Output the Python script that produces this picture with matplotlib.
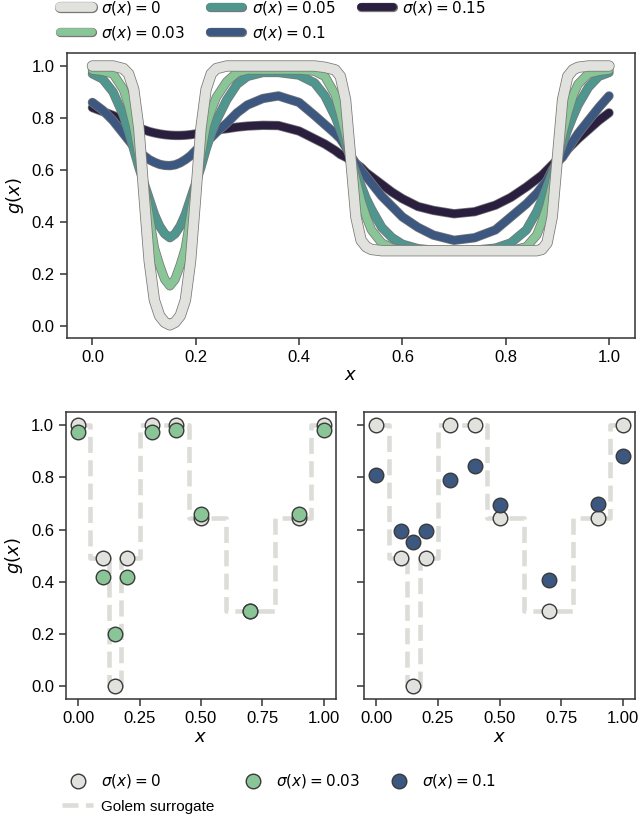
import numpy as np
import matplotlib
matplotlib.use('Agg')
import matplotlib.pyplot as plt
import matplotlib.patheffects as pe

plt.rcParams['font.family'] = ['Liberation Sans', 'DejaVu Sans']
plt.rcParams['mathtext.fontset'] = 'dejavusans'
plt.rcParams['font.size'] = 12

# top panel: smoothed objective for each input noise level
x_grid = [0.00, 0.02, 0.04, 0.06, 0.07, 0.08, 0.09, 0.10, 0.11, 0.12,
          0.13, 0.14, 0.15, 0.16, 0.17, 0.18, 0.19, 0.20, 0.21, 0.22,
          0.23, 0.24, 0.26, 0.28, 0.30, 0.33, 0.36, 0.40, 0.43, 0.45,
          0.47, 0.48, 0.49, 0.50, 0.51, 0.52, 0.53, 0.54, 0.56, 0.58,
          0.60, 0.63, 0.66, 0.70, 0.74, 0.78, 0.81, 0.84, 0.86, 0.87,
          0.88, 0.89, 0.90, 0.91, 0.92, 0.93, 0.94, 0.96, 0.98, 1.00]
g_s0 = [1.0, 1.0, 1.0, 0.99, 0.97, 0.91, 0.76, 0.50, 0.25, 0.10,
        0.04, 0.015, 0.005, 0.015, 0.04, 0.10, 0.25, 0.50, 0.76, 0.91,
        0.97, 0.99, 1.0, 1.0, 1.0, 1.0, 1.0, 1.0, 1.0, 0.995,
        0.985, 0.96, 0.87, 0.645, 0.42, 0.33, 0.305, 0.295, 0.29, 0.29,
        0.29, 0.29, 0.29, 0.29, 0.29, 0.29, 0.29, 0.29, 0.29, 0.295,
        0.32, 0.42, 0.645, 0.87, 0.96, 0.985, 0.995, 1.0, 1.0, 1.0]
g_s003 = [0.985, 0.98, 0.97, 0.91, 0.85, 0.77, 0.66, 0.54, 0.42, 0.30,
          0.235, 0.18, 0.155, 0.18, 0.235, 0.30, 0.42, 0.54, 0.66, 0.77,
          0.83, 0.88, 0.94, 0.975, 0.985, 0.985, 0.985, 0.985, 0.98, 0.96,
          0.89, 0.82, 0.74, 0.645, 0.56, 0.48, 0.42, 0.37, 0.32, 0.30,
          0.293, 0.29, 0.29, 0.29, 0.29, 0.29, 0.29, 0.305, 0.35, 0.40,
          0.46, 0.54, 0.645, 0.74, 0.82, 0.885, 0.93, 0.97, 0.98, 0.985]
g_s005 = [0.97, 0.95, 0.90, 0.81, 0.75, 0.68, 0.61, 0.55, 0.49, 0.43,
          0.385, 0.355, 0.34, 0.355, 0.385, 0.43, 0.49, 0.55, 0.61, 0.68,
          0.74, 0.79, 0.87, 0.93, 0.96, 0.975, 0.975, 0.965, 0.935, 0.885,
          0.805, 0.755, 0.70, 0.645, 0.59, 0.54, 0.49, 0.45, 0.38, 0.34,
          0.315, 0.298, 0.292, 0.29, 0.292, 0.30, 0.32, 0.37, 0.44, 0.485,
          0.535, 0.588, 0.645, 0.70, 0.755, 0.805, 0.85, 0.918, 0.96, 0.975]
g_s01 = [0.86, 0.83, 0.79, 0.74, 0.715, 0.69, 0.67, 0.655, 0.64, 0.63,
         0.622, 0.618, 0.617, 0.62, 0.628, 0.64, 0.655, 0.675, 0.695, 0.71,
         0.725, 0.745, 0.78, 0.82, 0.85, 0.875, 0.885, 0.86, 0.81, 0.775,
         0.74, 0.72, 0.69, 0.655, 0.625, 0.60, 0.575, 0.55, 0.50, 0.46,
         0.42, 0.38, 0.35, 0.33, 0.34, 0.37, 0.42, 0.47, 0.51, 0.535,
         0.56, 0.60, 0.63, 0.65, 0.68, 0.71, 0.74, 0.79, 0.84, 0.885]
g_s015 = [0.84, 0.825, 0.81, 0.79, 0.78, 0.77, 0.762, 0.755, 0.748, 0.743,
          0.739, 0.736, 0.734, 0.733, 0.733, 0.734, 0.736, 0.739, 0.742, 0.746,
          0.75, 0.754, 0.759, 0.765, 0.769, 0.772, 0.771, 0.75, 0.72, 0.70,
          0.675, 0.66, 0.65, 0.638, 0.625, 0.61, 0.59, 0.575, 0.545, 0.515,
          0.49, 0.46, 0.445, 0.432, 0.44, 0.465, 0.495, 0.535, 0.565, 0.58,
          0.60, 0.62, 0.64, 0.66, 0.68, 0.70, 0.72, 0.755, 0.79, 0.82]

sigma_labels = ['0', '0.03', '0.05', '0.1', '0.15']
curve_colors = ['#e1e1dd', '#89c597', '#4f978e', '#3c5880', '#2b1f3f']

# bottom panels: sampled observations
x_samples = [0.0, 0.1, 0.15, 0.2, 0.3, 0.4, 0.5, 0.7, 0.9, 1.0]
y_s0 = [1.0, 0.49, 0.0, 0.49, 1.0, 1.0, 0.645, 0.29, 0.645, 1.0]
y_s003 = [0.975, 0.42, 0.20, 0.42, 0.975, 0.98, 0.66, 0.29, 0.66, 0.98]
y_s01 = [0.81, 0.595, 0.553, 0.594, 0.789, 0.843, 0.693, 0.406, 0.697, 0.881]

fig = plt.figure(figsize=(6.4, 8.16), dpi=100)
ax = fig.add_axes([0.104, 0.586, 0.888, 0.349])
ax1 = fig.add_axes([0.103, 0.143, 0.422, 0.352])
ax2 = fig.add_axes([0.569, 0.143, 0.423, 0.352], sharey=ax1)

def style(a):
    for s in a.spines.values():
        s.set_linewidth(1.1)
        s.set_color('#333333')
    a.tick_params(direction='out', length=5, width=1.1, color='#333333', labelsize=12)

curves = [g_s0, g_s003, g_s005, g_s01, g_s015]
handles = []
for i in range(len(curves)):
    lw = 7 if i == 0 else 5.6
    ln, = ax.plot(x_grid, curves[i], color=curve_colors[i], lw=lw, solid_capstyle='round',
                  zorder=10 - i, label=r'$\sigma(x) = ' + sigma_labels[i] + '$',
                  path_effects=[pe.Stroke(linewidth=lw + 1.1, foreground='#777777'), pe.Normal()])
    handles.append(ln)
ax.set_xlabel(r'$x$', fontsize=13, labelpad=2)
ax.set_ylabel(r'$g(x)$', fontsize=13)
ax.set_xticks([0.0, 0.2, 0.4, 0.6, 0.8, 1.0])
ax.set_yticks([0.0, 0.2, 0.4, 0.6, 0.8, 1.0])
style(ax)
fig.legend(handles=handles, loc='upper left', bbox_to_anchor=(0.072, 1.018), ncol=3,
           frameon=False, fontsize=11, handlelength=2.1, handletextpad=0.6,
           columnspacing=1.65, labelspacing=0.45)

mk = dict(s=110, edgecolors='#3a3a3a', linewidths=1.0)
for a, ys, col in [(ax1, y_s003, curve_colors[1]), (ax2, y_s01, curve_colors[3])]:
    surr, = a.step(x_samples, y_s0, where='mid', color='#dcdcd8', lw=3.3,
                   linestyle=(0, (3.5, 1.6)), zorder=1, label='Golem surrogate')
    p0 = a.scatter(x_samples, y_s0, color=curve_colors[0], zorder=3, label=r'$\sigma(x) = 0$', **mk)
    p1 = a.scatter(x_samples, ys, color=col, zorder=4, **mk)
    a.set_xticks([0.0, 0.25, 0.5, 0.75, 1.0])
    a.set_xticklabels(['0.00', '0.25', '0.50', '0.75', '1.00'])
    a.set_xlabel(r'$x$', fontsize=13, labelpad=2)
    style(a)
    if a is ax1:
        h_s0, h_surr, h_g = p0, surr, p1
    else:
        h_b = p1
ax1.set_yticks([0.0, 0.2, 0.4, 0.6, 0.8, 1.0])
ax1.set_ylabel(r'$g(x)$', fontsize=13)
plt.setp(ax2.get_yticklabels(), visible=False)

fig.legend([h_s0, h_surr, h_g, h_b],
           [r'$\sigma(x) = 0$', 'Golem surrogate', r'$\sigma(x) = 0.03$', r'$\sigma(x) = 0.1$'],
           loc='upper left', bbox_to_anchor=(0.076, 0.071), ncol=3, frameon=False, fontsize=11,
           handlelength=2.0, handletextpad=0.5, columnspacing=1.55, labelspacing=0.65)

fig.savefig('out.png', dpi=100)
